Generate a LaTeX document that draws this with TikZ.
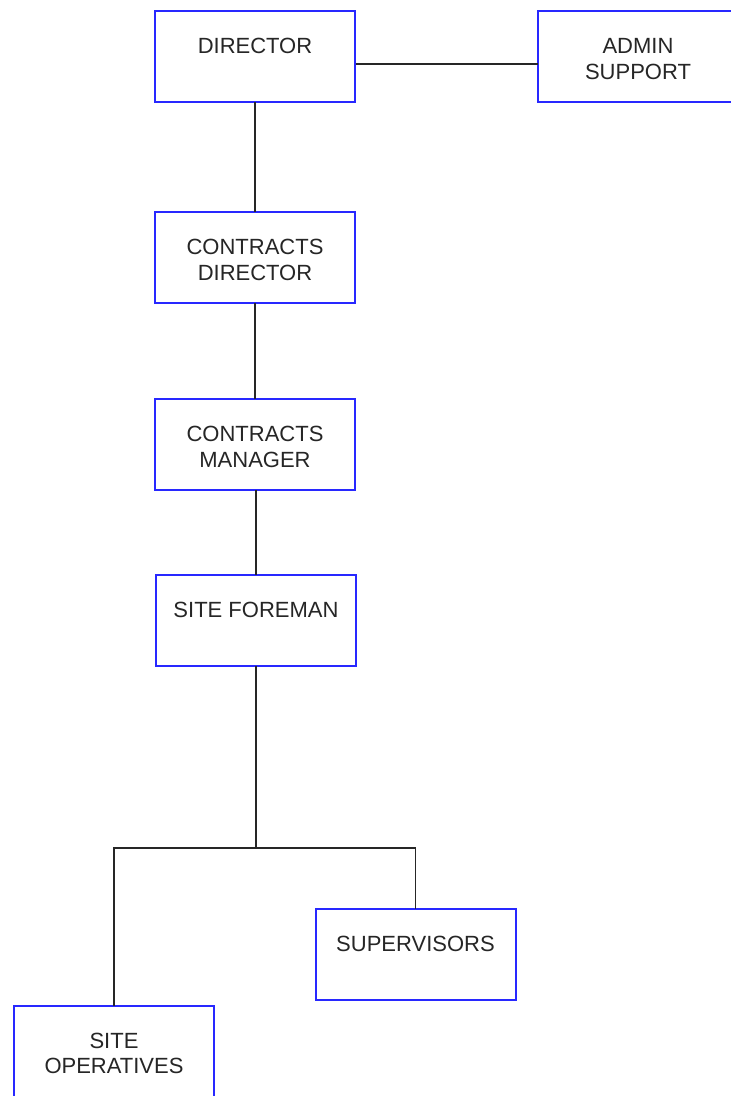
\documentclass[tikz,border=0pt]{standalone}
\usepackage{fontspec}
\setmainfont{Liberation Sans}
\definecolor{boxblue}{RGB}{40,40,255}
\begin{document}
\begin{tikzpicture}[x=0.5pt,y=-0.5pt,
  box/.style={draw=boxblue,line width=1pt,fill=white,minimum width=100pt,minimum height=45.5pt,inner sep=0pt,outer sep=0pt},
  lbl/.style={anchor=north,align=center,font=\fontsize{11}{12.8}\selectfont,text=black!85,inner sep=0pt,yshift=-13.5pt},
  link/.style={draw=black!85,line width=0.75pt}]
\clip (0,0) rectangle (731,1096);
\useasboundingbox (0,0) rectangle (731,1096);
% boxes
\node[box] (dir) at (255,56.5) {};
\node[box] (adm) at (638,56.5) {};
\node[box] (cdir) at (255,257.5) {};
\node[box] (cman) at (255,444.5) {};
\node[box] (sf) at (256,620.5) {};
\node[box] (sup) at (415.5,954) {};
\node[box] (sop) at (114,1051) {};
% labels
\node[lbl] (tdir) at (dir.north) {DIRECTOR};
\node[lbl] (tadm) at (adm.north) {ADMIN\\SUPPORT};
\node[lbl] (tcdir) at (cdir.north) {CONTRACTS\\DIRECTOR};
\node[lbl] (tcman) at (cman.north) {CONTRACTS\\MANAGER};
\node[lbl] (tsf) at (sf.north) {SITE FOREMAN};
\node[lbl] (tsup) at (sup.north) {SUPERVISORS};
\node[lbl] (tsop) at (sop.north) {SITE\\OPERATIVES};
% connectors
\coordinate (dj) at (356,64);
\coordinate (jn) at (256,848);
\draw[link] (dj) -- (dj -| adm.west);
\draw[link] (dir.south) -- (cdir.north);
\draw[link] (cdir.south) -- (cman.north);
\draw[link] (cman.south -| sf.north) -- (sf.north);
\draw[link] (sf.south) -- (jn);
\draw[link] (sop.north) |- (jn) -| (sup.north);
\end{tikzpicture}
\end{document}
